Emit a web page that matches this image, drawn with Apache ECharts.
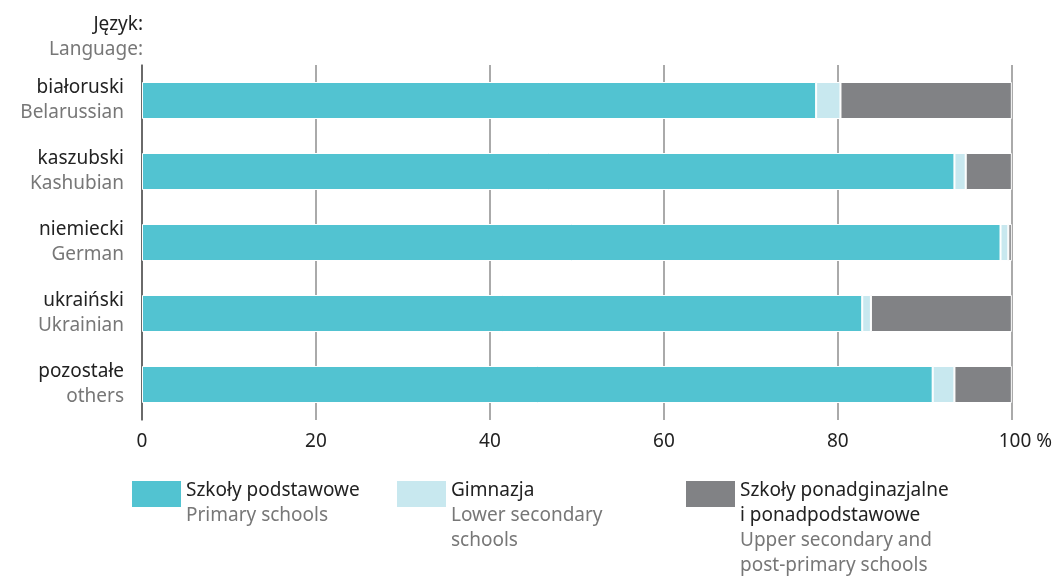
<!DOCTYPE html>
<html>
<head>
<meta charset="utf-8">
<script src="https://cdn.jsdelivr.net/npm/echarts@6/dist/echarts.min.js"></script>
<style>
  html, body { margin: 0; padding: 0; background: #fff; }
  #chart { width: 1055px; height: 576px; }
</style>
</head>
<body>
<div id="chart"></div>
<script>
// languages (PL / EN)
const languagesPl = ["białoruski", "kaszubski", "niemiecki", "ukraiński", "pozostałe"];
const languagesEn = ["Belarussian", "Kashubian", "German", "Ukrainian", "others"];

// shares of pupils by school type, %
const primarySchools = [77.5, 93.4, 98.7, 82.8, 90.9];
const lowerSecondary = [2.8, 1.3, 0.9, 1.0, 2.5];
const upperSecondary = [19.7, 5.3, 0.4, 16.2, 6.6];

const seriesNamesPl = ["Szkoły podstawowe", "Gimnazja", "Szkoły ponadginazjalne\ni ponadpodstawowe"];
const seriesNamesEn = ["Primary schools", "Lower secondary\nschools", "Upper secondary and\npost-primary schools"];
const seriesColors = ["#52c3d1", "#c8e8ef", "#818285"];

const xTicks = [0, 20, 40, 60, 80, 100];

const fontFamily = "'Noto Sans', sans-serif";
const fs = 19;
const chart = echarts.init(document.getElementById("chart"));

const seriesData = [primarySchools, lowerSecondary, upperSecondary];

const richPlEn = (align) => ({
  pl: { fontSize: fs, fontFamily: fontFamily, color: "#222", fill: "#222", lineHeight: 25, align: align },
  en: { fontSize: fs, fontFamily: fontFamily, color: "#777", fill: "#777", lineHeight: 25, align: align }
});
const twoLang = (pl, en) =>
  "{pl|" + pl.split("\n").join("}\n{pl|") + "}\n{en|" + en.split("\n").join("}\n{en|") + "}";

// legend boxes drawn as graphics so the swatch sits at the top of the text block
const legendX = [132, 397, 686];
const graphics = [{
  type: "text",
  x: 143,
  y: 12,
  style: {
    text: twoLang("Język:", "Language:"),
    align: "right",
    font: fs + "px " + fontFamily,
    rich: richPlEn("right")
  }
}];
seriesNamesPl.forEach((name, i) => {
  graphics.push({
    type: "rect",
    x: legendX[i],
    y: 481,
    shape: { width: 49, height: 26 },
    style: { fill: seriesColors[i] }
  });
  graphics.push({
    type: "text",
    x: legendX[i] + 54,
    y: 478,
    style: {
      text: twoLang(name, seriesNamesEn[i]),
      font: fs + "px " + fontFamily,
      rich: richPlEn("left")
    }
  });
});

const option = {
  animation: false,
  grid: { left: 142, right: 43, top: 65, bottom: 156 },
  xAxis: {
    type: "value",
    min: 0,
    max: 100,
    interval: 20,
    axisLine: { show: false },
    axisTick: { show: false },
    splitLine: { show: true, lineStyle: { color: "#aaaaaa", width: 2 } },
    axisLabel: {
      margin: 12,
      fontSize: fs,
      fontFamily: fontFamily,
      color: "#222",
      formatter: v => (v === xTicks[xTicks.length - 1] ? "{h|" + v + " %}" : String(v)),
      rich: {
        h: { fontSize: fs, fontFamily: fontFamily, color: "#222", padding: [0, 0, 0, 27] }
      }
    }
  },
  yAxis: {
    type: "category",
    inverse: true,
    data: languagesPl,
    axisLine: { show: true, lineStyle: { color: "#555", width: 1.5 } },
    axisTick: { show: false },
    axisLabel: {
      margin: 18,
      align: "right",
      formatter: (v, i) => twoLang(v, languagesEn[i]),
      rich: richPlEn("right")
    }
  },
  graphic: graphics,
  series: seriesData.map((d, i) => ({
    name: seriesNamesPl[i],
    type: "bar",
    stack: "total",
    barWidth: 37,
    data: d,
    itemStyle: { color: seriesColors[i], borderColor: "#fff", borderWidth: 1 },
    silent: true
  }))
};

chart.setOption(option);
</script>
</body>
</html>
